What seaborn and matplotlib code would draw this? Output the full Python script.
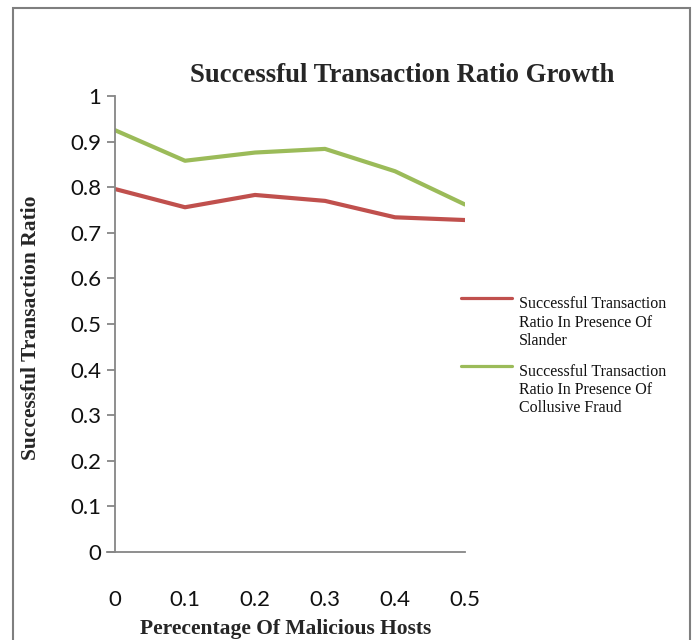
import matplotlib
matplotlib.use("Agg")
import matplotlib.pyplot as plt
import seaborn as sns
import pandas as pd
from matplotlib.patches import Rectangle
from matplotlib.legend_handler import HandlerLine2D
from matplotlib.lines import Line2D

x_vals = [0, 0.1, 0.2, 0.3, 0.4, 0.5]
slander = [0.796, 0.756, 0.783, 0.770, 0.734, 0.728]
collusive = [0.925, 0.858, 0.876, 0.884, 0.835, 0.762]
series_names = ["Successful Transaction\nRatio In Presence Of\nSlander",
                "Successful Transaction\nRatio In Presence Of\nCollusive Fraud"]
y_ticks = [0, 0.1, 0.2, 0.3, 0.4, 0.5, 0.6, 0.7, 0.8, 0.9, 1]
y_tick_labels = ["0", "0.1", "0.2", "0.3", "0.4", "0.5", "0.6", "0.7", "0.8", "0.9", "1"]
x_tick_labels = ["0", "0.1", "0.2", "0.3", "0.4", "0.5"]
title = "Successful Transaction Ratio Growth"
xlabel = "Perecentage Of Malicious Hosts"
ylabel = "Successful Transaction Ratio"

df = pd.DataFrame({
    "x": x_vals * 2,
    "y": slander + collusive,
    "series": [series_names[0]] * len(x_vals) + [series_names[1]] * len(x_vals),
})

sns.set_style("white")
fig = plt.figure(figsize=(6.98, 6.4), dpi=100)
ax = fig.add_axes([115/698, 1 - 552/640, 350/698, 456/640])

sns.lineplot(data=df, x="x", y="y", hue="series", hue_order=series_names,
             palette=["#C0504D", "#9BBB59"], linewidth=3.0, ax=ax, legend=True)

ax.set_xlim(0, 0.5)
ax.set_ylim(0, 1)
ax.set_yticks(y_ticks)
ax.set_yticklabels(y_tick_labels)
ax.set_xticks(x_vals)
ax.set_xticklabels(x_tick_labels)
for s in ["top", "right"]:
    ax.spines[s].set_visible(False)
for s in ["left", "bottom"]:
    ax.spines[s].set_color("#868686")
    ax.spines[s].set_linewidth(1.3)
ax.tick_params(axis="y", which="both", direction="out", length=6, width=1.3,
               color="#868686", left=True, pad=4, labelsize=16)
ax.tick_params(axis="x", which="both", length=0, pad=27, labelsize=16)
for lab in ax.get_xticklabels() + ax.get_yticklabels():
    lab.set_fontfamily("Lato")
    lab.set_color("#111111")
ax.set_xlabel("")
ax.set_ylabel("")

ax.spines["bottom"].set_bounds(-0.0115, 0.5)
ax.spines["bottom"].set_clip_on(False)

fig.text(402/698, 1 - 76/640, title, ha="center", va="center",
         fontfamily="Liberation Serif", fontweight="bold", fontsize=19.3)
fig.text(286/698, 1 - 629/640, xlabel, ha="center", va="center",
         fontfamily="Liberation Serif", fontweight="bold", fontsize=15.5)
fig.text(31/698, 1 - 328/640, ylabel, ha="center", va="center", rotation=90,
         fontfamily="Liberation Serif", fontweight="bold", fontsize=15.5)


class TopLineHandler(HandlerLine2D):
    def create_artists(self, legend, orig_handle, xdescent, ydescent, width,
                       height, fontsize, trans):
        artists = super().create_artists(legend, orig_handle, xdescent, ydescent,
                                         width, height, fontsize, trans)
        for a in artists:
            if isinstance(a, Line2D):
                a.set_ydata([y + 17.8 for y in a.get_ydata()])
                a.set_linewidth(2.3)
        return artists


handles, labels = ax.get_legend_handles_labels()
ax.legend(handles, labels, loc="upper left", bbox_to_anchor=(447/698, 1 - 282/640),
          bbox_transform=fig.transFigure, frameon=False,
          prop={"family": "Liberation Serif", "size": 11.5},
          handlelength=3.15, handletextpad=0.45, labelspacing=0.9,
          handler_map={h: TopLineHandler() for h in handles})
leg = ax.get_legend()
for t in leg.get_texts():
    t.set_linespacing(1.2)
    t.set_color("#111111")

fig.patches.append(Rectangle((13/698, -0.05), (690 - 13)/698, 1.05 - 8/640,
                             transform=fig.transFigure, fill=False,
                             edgecolor="#7f7f7f", linewidth=1.5))

fig.savefig("out.png", dpi=100)
